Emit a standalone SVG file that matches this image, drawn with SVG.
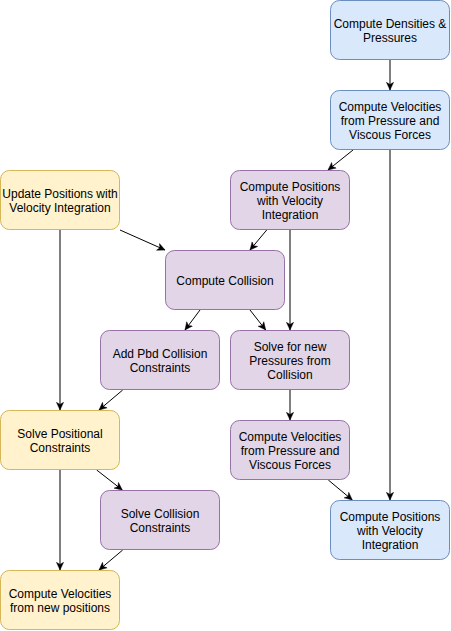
<svg xmlns="http://www.w3.org/2000/svg" width="451" height="631" viewBox="0 0 451 631">
<style>
.n rect{stroke-width:1}
.blue rect{fill:#dae8fc;stroke:#6c8ebf}
.purple rect{fill:#e1d5e7;stroke:#9673a6}
.yellow rect{fill:#fff2cc;stroke:#d6b656}
text{font-family:"Liberation Sans",Arial,Helvetica,sans-serif;font-size:12px;fill:#000;text-anchor:middle}
.e path{fill:none;stroke:#000;stroke-width:1;marker-end:url(#arr)}
</style>
<defs>
<marker id="arr" markerUnits="userSpaceOnUse" viewBox="0 0 10 10" markerWidth="9" markerHeight="9" refX="9" refY="5" orient="auto">
<path d="M0.5,1 L9,5 L0.5,9 L2.8,5 Z" fill="#000" stroke="#000" stroke-width="0.5"/>
</marker>
</defs>
<rect width="451" height="631" fill="#fff"/>
<g id="connectors" class="e">
<path d="M390,60 V90"/>
<path d="M353,150 L328,170"/>
<path d="M390,150 V500"/>
<path d="M120,230 L165,250"/>
<path d="M266.7,230 L250,250"/>
<path d="M290,230 V330"/>
<path d="M60,230 V410"/>
<path d="M200,310 L185,330"/>
<path d="M250,310 L265.7,330"/>
<path d="M122.7,390 L99,410"/>
<path d="M290,390 V420"/>
<path d="M96.7,470 L122.3,490"/>
<path d="M60,470 V570"/>
<path d="M122.7,550 L99,570"/>
<path d="M328.3,480 L352.3,500"/>
</g>
<g id="densities" class="n blue"><rect x="330.5" y="0.5" width="119" height="59" rx="9"/><text x="390" y="27.5">Compute Densities &amp;</text><text x="390" y="41.5">Pressures</text></g>
<g id="velocities1" class="n blue"><rect x="330.5" y="90.5" width="119" height="59" rx="9"/><text x="390" y="110.5">Compute Velocities</text><text x="390" y="124.5">from Pressure and</text><text x="390" y="138.5">Viscous Forces</text></g>
<g id="positions1" class="n purple"><rect x="230.5" y="170.5" width="119" height="59" rx="9"/><text x="290" y="190.5">Compute Positions</text><text x="290" y="204.5">with Velocity</text><text x="290" y="218.5">Integration</text></g>
<g id="updatePositions" class="n yellow"><rect x="0.5" y="170.5" width="119" height="59" rx="9"/><text x="60" y="197.5">Update Positions with</text><text x="60" y="211.5">Velocity Integration</text></g>
<g id="collision" class="n purple"><rect x="165.5" y="250.5" width="119" height="59" rx="9"/><text x="225" y="284.5">Compute Collision</text></g>
<g id="addPbd" class="n purple"><rect x="100.5" y="330.5" width="119" height="59" rx="9"/><text x="160" y="357.5">Add Pbd Collision</text><text x="160" y="371.5">Constraints</text></g>
<g id="solvePressures" class="n purple"><rect x="230.5" y="330.5" width="119" height="59" rx="9"/><text x="290" y="350.5">Solve for new</text><text x="290" y="364.5">Pressures from</text><text x="290" y="378.5">Collision</text></g>
<g id="solvePositional" class="n yellow"><rect x="0.5" y="410.5" width="119" height="59" rx="9"/><text x="60" y="437.5">Solve Positional</text><text x="60" y="451.5">Constraints</text></g>
<g id="velocities2" class="n purple"><rect x="230.5" y="420.5" width="119" height="59" rx="9"/><text x="290" y="440.5">Compute Velocities</text><text x="290" y="454.5">from Pressure and</text><text x="290" y="468.5">Viscous Forces</text></g>
<g id="solveCollision" class="n purple"><rect x="100.5" y="490.5" width="119" height="59" rx="9"/><text x="160" y="517.5">Solve Collision</text><text x="160" y="531.5">Constraints</text></g>
<g id="positions2" class="n blue"><rect x="330.5" y="500.5" width="119" height="59" rx="9"/><text x="390" y="520.5">Compute Positions</text><text x="390" y="534.5">with Velocity</text><text x="390" y="548.5">Integration</text></g>
<g id="velocitiesNew" class="n yellow"><rect x="0.5" y="570.5" width="119" height="59" rx="9"/><text x="60" y="597.5">Compute Velocities</text><text x="60" y="611.5">from new positions</text></g>
</svg>
